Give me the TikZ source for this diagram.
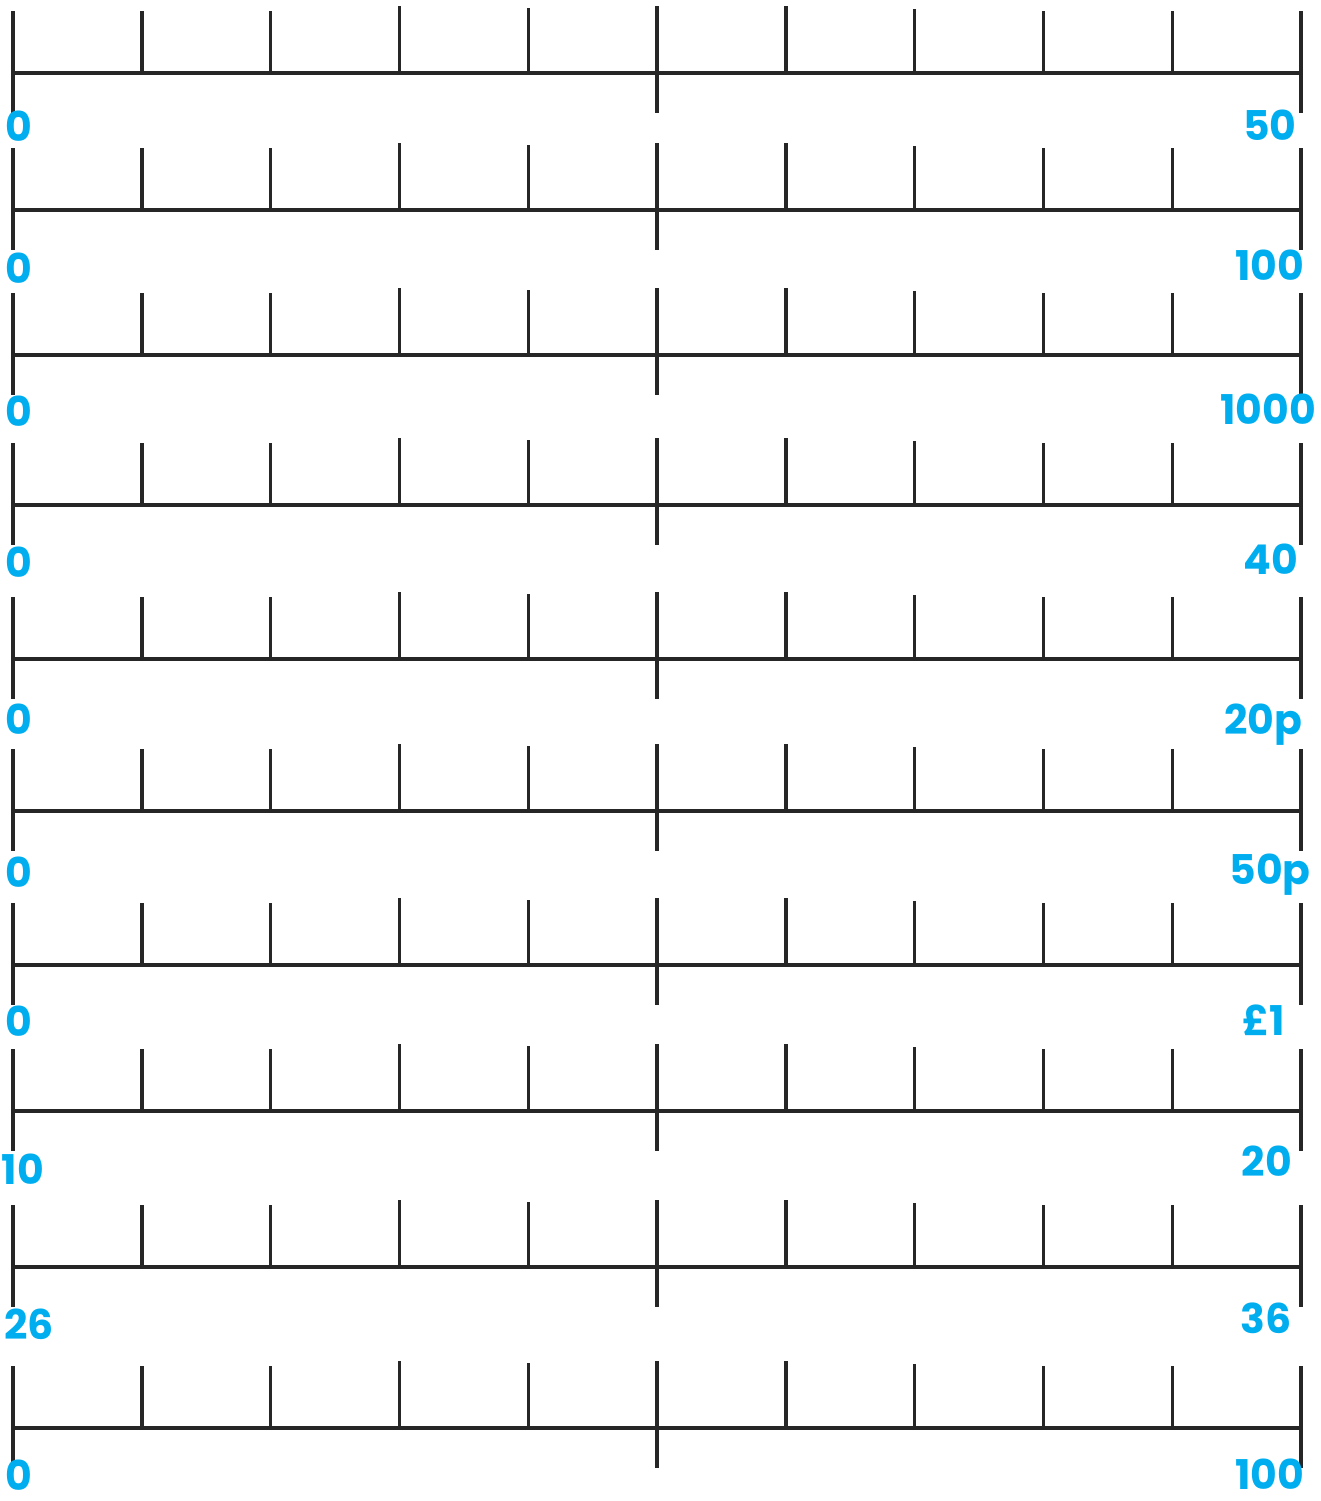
\documentclass[tikz,border=0pt]{standalone}
\usepackage{fontspec}
\setmainfont{Poppins}
\definecolor{xCyan}{RGB}{0,174,239}
\definecolor{xInk}{RGB}{38,38,38}
\tikzset{
  axisline/.style={xInk, line width=3.4pt},
  tickline/.style={xInk, line width=3.4pt},
  lbl/.style={text=xCyan, font=\bfseries\fontsize{41}{41}\selectfont, inner sep=0pt, anchor=base},
}

\begin{document}
\begin{tikzpicture}[x=1pt, y=-1pt]
  \useasboundingbox (0,0) rectangle (1320,1501);
  \foreach \ax/\lo/\hi/\lx/\rx/\ly/\ry [count=\r] in {
      73/0/50/19/1270/128/127,
      210/0/100/19/1270/269/266,
      355/0/1000/19/1268/412/410,
      505/0/40/19/1271/563/560,
      659/0/20p/19/1263/720/720,
      811/0/50p/19/1270/873/870,
      965/0/\pounds1/19/1264/1022/1021,
      1111/10/20/23/1267/1170/1162,
      1267/26/36/29/1266/1325/1319,
      1428/0/100/19/1270/1476/1475}{
    % axis and ticks
    \draw[axisline] (13,\ax) -- (1301,\ax);
    \foreach \d [count=\i from 0] in {0,0,0,5,3,5,5,2,0,0,0}
      \draw[tickline] (13+128.8*\i,\ax) -- ++(0,-62-\d);
    \foreach \i in {0,5,10}
      \draw[tickline] (13+128.8*\i,\ax) -- ++(0,40);
    % end labels
    \node[lbl] (lo\r) at (\lx,\ly+14) {\lo};
    \node[lbl] (hi\r) at (\rx,\ry+14) {\hi};
  }
\end{tikzpicture}
\end{document}
